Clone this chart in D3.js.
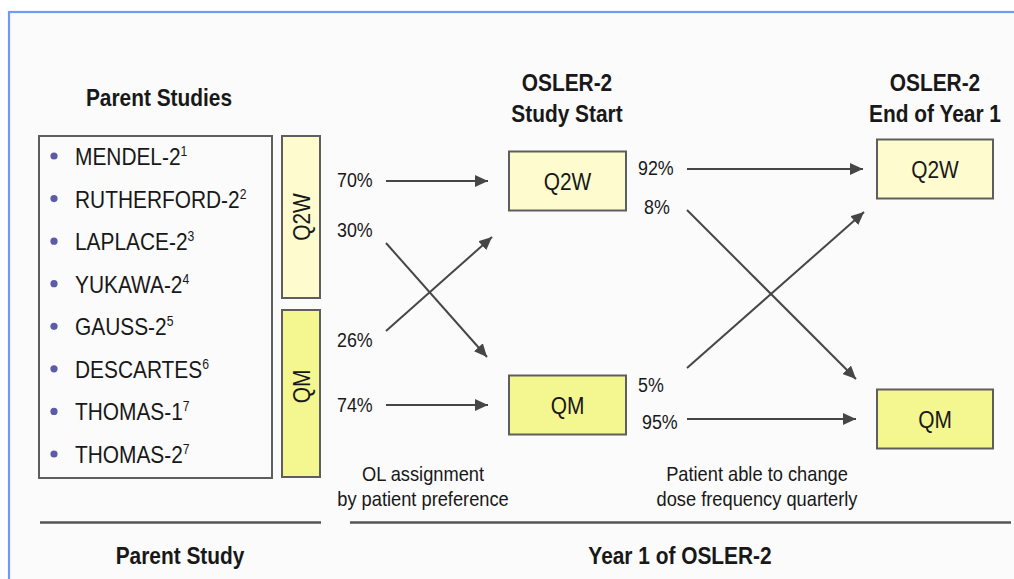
<!DOCTYPE html>
<html><head><meta charset="utf-8">
<script src="https://cdn.jsdelivr.net/npm/d3@7"></script>
<style>html,body{margin:0;padding:0;background:#fff;}svg{display:block;}</style>
</head><body>
<script>
// ---- data ----
const parentStudies = ["MENDEL-2","RUTHERFORD-2","LAPLACE-2","YUKAWA-2","GAUSS-2","DESCARTES","THOMAS-1","THOMAS-2"];
const studyRefs = ["1","2","3","4","5","6","7","7"];
const regimens = ["Q2W","QM"];
// parent regimen -> OSLER-2 start regimen (%)
const startFlows = [
  {from:"Q2W", to:"Q2W", pct:70},
  {from:"Q2W", to:"QM",  pct:30},
  {from:"QM",  to:"Q2W", pct:26},
  {from:"QM",  to:"QM",  pct:74}
];
// OSLER-2 start -> end of year 1 (%)
const yearFlows = [
  {from:"Q2W", to:"Q2W", pct:92},
  {from:"Q2W", to:"QM",  pct:8},
  {from:"QM",  to:"Q2W", pct:5},
  {from:"QM",  to:"QM",  pct:95}
];
const stageTitles = [["OSLER-2","Study Start"],["OSLER-2","End of Year 1"]];
const notes = [["OL assignment","by patient preference"],["Patient able to change","dose frequency quarterly"]];
const footers = ["Parent Study","Year 1 of OSLER-2"];

// ---- setup ----
const W = 1014, H = 579, SX = 0.87;
const FONT = "'Liberation Sans', Arial, Helvetica, sans-serif";
const svg = d3.select("body").append("svg").attr("width", W).attr("height", H);
const fills = {Q2W:"#fefccf", QM:"#f4f690"};
const ink = "#181818", lineCol = "#464646";

svg.append("defs").append("marker")
  .attr("id","ah").attr("markerUnits","userSpaceOnUse")
  .attr("markerWidth",14).attr("markerHeight",12).attr("refX",13).attr("refY",6)
  .attr("orient","auto")
  .append("path").attr("d","M0,0 L13,6 L0,12 Z").attr("fill",lineCol);

function txt(x, y, s, size, weight, anchor) {
  return svg.append("text")
    .attr("transform", `translate(${x},${y}) scale(${SX},1)`)
    .attr("text-anchor", anchor || "middle")
    .style("font-family", FONT).style("font-size", size + "px")
    .style("font-weight", weight || "normal").attr("fill", ink).text(s);
}
function box(x, y, w, h, fill) {
  svg.append("rect").attr("x",x).attr("y",y).attr("width",w).attr("height",h)
    .attr("fill",fill).attr("stroke","#5e5e5e").attr("stroke-width",2);
}
function arrow(x1,y1,x2,y2){
  svg.append("line").attr("x1",x1).attr("y1",y1).attr("x2",x2).attr("y2",y2)
    .attr("stroke",lineCol).attr("stroke-width",2).attr("marker-end","url(#ah)");
}

// frame
svg.append("rect").attr("x",9).attr("y",12).attr("width",W+20).attr("height",H+20)
  .attr("fill","#fbfbfb").attr("stroke","#6d9cf2").attr("stroke-width",2.2);

// ---- parent studies ----
txt(159, 106, "Parent Studies", 24, "bold");
box(39, 136, 233, 342, "#fbfbfb");
const yRow = d3.scalePoint().domain(parentStudies).range([165, 463]);
parentStudies.forEach((s, i) => {
  svg.append("circle").attr("cx",54).attr("cy",yRow(s)-9).attr("r",3.6).attr("fill","#5b5ba8");
  const t = txt(75, yRow(s), s, 24, "normal", "start");
  t.append("tspan").attr("dy",-9).style("font-size","14px").text(studyRefs[i]);
});

// parent regimen vertical boxes
const parentBand = {Q2W:[136,298], QM:[310,477]};
regimens.forEach(r => {
  const [y0,y1] = parentBand[r];
  box(282, y0, 38, y1-y0, fills[r]);
  const cy = r === "Q2W" ? (y0+y1)/2 : (y0+y1)/2 - 7;
  svg.append("text").attr("transform",`translate(309.5,${cy}) rotate(-90) scale(${SX},1)`)
    .attr("text-anchor","middle").style("font-family",FONT).style("font-size","24px")
    .attr("fill",ink).text(r);
});

// ---- stage boxes ----
const stageX = [509, 877], boxW = [117, 116], boxH = 59;
const yStart = d3.scaleOrdinal().domain(regimens).range([181, 405]); // centers, stage 1
const yEnd = d3.scaleOrdinal().domain(regimens).range([169, 419]);   // centers, stage 2
const stageY = [yStart, yEnd];
stageTitles.forEach((tt, k) => {
  const cx = stageX[k] + boxW[k]/2;
  txt(k===0 ? 567 : 935, 91, tt[0], 24, "bold");
  txt(k===0 ? 567 : 935, 122, tt[1], 24, "bold");
  regimens.forEach(r => {
    const cy = stageY[k](r);
    box(stageX[k], cy - boxH/2, boxW[k], boxH, fills[r]);
    txt(cx, cy + 9, r, 24);
  });
});

// ---- flows: parent -> start ----
const lab1 = {"Q2W>Q2W":[337,187], "Q2W>QM":[337,237], "QM>Q2W":[337,347], "QM>QM":[337,412]};
startFlows.forEach(f => {
  const key = f.from + ">" + f.to;
  const [lx, ly] = lab1[key];
  txt(lx, ly, f.pct + "%", 20.5, "normal", "start");
  if (f.from === f.to) {
    const y = yStart(f.to);
    arrow(386, y, 488, y);
  } else if (f.to === "QM") {
    arrow(386, yStart(f.from) + 62, 487, yStart(f.to) - 48);
  } else {
    arrow(386, yStart(f.from) - 74, 492, yStart(f.to) + 56);
  }
});

// ---- flows: start -> end ----
const lab2 = {"Q2W>Q2W":[638,175], "Q2W>QM":[644,214], "QM>Q2W":[638,392], "QM>QM":[642,429]};
yearFlows.forEach(f => {
  const key = f.from + ">" + f.to;
  const [lx, ly] = lab2[key];
  txt(lx, ly, f.pct + "%", 20.5, "normal", "start");
  if (f.from === f.to) {
    const y = yEnd(f.to);
    arrow(687, y, f.to === "Q2W" ? 863 : 856, y);
  } else if (f.to === "QM") {
    arrow(687, yStart(f.from) + 29, 856, yEnd(f.to) - 40);
  } else {
    arrow(687, yStart(f.from) - 37, 864, yEnd(f.to) + 43);
  }
});

// ---- notes ----
const noteX = [423, 757];
notes.forEach((n, k) => {
  txt(noteX[k], 481, n[0], 21);
  txt(noteX[k], 506, n[1], 21);
});

// ---- bottom rule and footers ----
svg.append("line").attr("x1",40).attr("x2",321).attr("y1",522.5).attr("y2",522.5)
  .attr("stroke","#555").attr("stroke-width",2.5);
svg.append("line").attr("x1",350).attr("x2",1011).attr("y1",522.5).attr("y2",522.5)
  .attr("stroke","#555").attr("stroke-width",2.5);
txt(180, 564, footers[0], 24, "bold");
txt(680, 564, footers[1], 24, "bold");
</script>
</body></html>
